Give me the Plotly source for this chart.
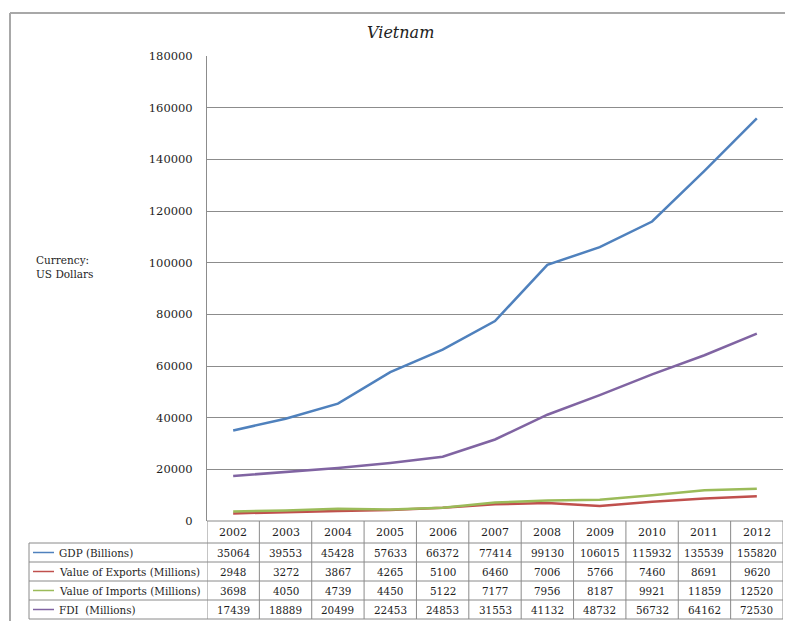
import plotly.graph_objects as go

years = [2002, 2003, 2004, 2005, 2006, 2007, 2008, 2009, 2010, 2011, 2012]
gdp = [35064, 39553, 45428, 57633, 66372, 77414, 99130, 106015, 115932, 135539, 155820]
exports = [2948, 3272, 3867, 4265, 5100, 6460, 7006, 5766, 7460, 8691, 9620]
imports = [3698, 4050, 4739, 4450, 5122, 7177, 7956, 8187, 9921, 11859, 12520]
fdi = [17439, 18889, 20499, 22453, 24853, 31553, 41132, 48732, 56732, 64162, 72530]

series_names = ["GDP (Billions)", "Value of Exports (Millions)", "Value of Imports (Millions)", "FDI  (Millions)"]
series_values = [gdp, exports, imports, fdi]
series_colors = ["#4F81BD", "#C0504D", "#9BBB59", "#8064A2"]
y_ticks = [0, 20000, 40000, 60000, 80000, 100000, 120000, 140000, 160000, 180000]

W, H = 785, 621
ML, MR, MT, MB = 207, 2, 56, 100
PW, PH = W - ML - MR, H - MT - MB


def xp(px):
    return (px - ML) / PW


def yp(py):
    return (H - MB - py) / PH


FONT = "DejaVu Serif"
GRID = "#8c8c8c"
TXT = "#1e1e1e"

fig = go.Figure()
for name, vals, col in zip(series_names, series_values, series_colors):
    fig.add_trace(go.Scatter(x=years, y=vals, mode="lines", name=name,
                             line=dict(color=col, width=2.5), showlegend=False))

shapes = []
annotations = []

# outer frame (left and top)
shapes.append(dict(type="line", xref="paper", yref="paper", x0=xp(10), x1=xp(785),
                   y0=yp(13), y1=yp(13), line=dict(color="#a8a8a8", width=2)))
shapes.append(dict(type="line", xref="paper", yref="paper", x0=xp(10), x1=xp(10),
                   y0=yp(13), y1=yp(621), line=dict(color="#a8a8a8", width=2)))

# table geometry
row_edges = [521, 543, 562, 581, 600, 619]
tbl_left = 29
line_style = dict(color="#8a8a8a", width=1)

for i, ry in enumerate(row_edges):
    x0 = xp(ML) if i == 0 else xp(tbl_left)
    shapes.append(dict(type="line", xref="paper", yref="paper", x0=x0, x1=1,
                       y0=yp(ry), y1=yp(ry), line=line_style))
for k in range(len(years) + 1):
    xv = years[0] - 0.5 + k
    shapes.append(dict(type="line", xref="x", yref="paper", x0=xv, x1=xv,
                       y0=yp(row_edges[0]), y1=yp(row_edges[-1]), line=line_style))
shapes.append(dict(type="line", xref="paper", yref="paper", x0=xp(tbl_left), x1=xp(tbl_left),
                   y0=yp(row_edges[1]), y1=yp(row_edges[-1]), line=line_style))

for yr in years:
    annotations.append(dict(x=yr, y=yp((row_edges[0] + row_edges[1]) / 2), xref="x", yref="paper",
                            text=str(yr), showarrow=False, xanchor="center", yanchor="middle",
                            font=dict(family=FONT, size=11, color=TXT)))

for r, (name, vals, col) in enumerate(zip(series_names, series_values, series_colors)):
    cy = (row_edges[r + 1] + row_edges[r + 2]) / 2
    shapes.append(dict(type="line", xref="paper", yref="paper", x0=xp(33), x1=xp(54),
                       y0=yp(cy), y1=yp(cy), line=dict(color=col, width=1.5)))
    annotations.append(dict(x=xp(57), y=yp(cy), xref="paper", yref="paper", text=name,
                            showarrow=False, xanchor="left", yanchor="middle",
                            font=dict(family=FONT, size=10.4, color=TXT)))
    for yr, v in zip(years, vals):
        annotations.append(dict(x=yr, y=yp(cy), xref="x", yref="paper", text=str(v),
                                showarrow=False, xanchor="center", yanchor="middle",
                                font=dict(family=FONT, size=10.4, color=TXT)))

annotations.append(dict(x=xp(400), y=yp(33), xref="paper", yref="paper", text="<i>Vietnam</i>",
                        showarrow=False, xanchor="center", yanchor="middle",
                        font=dict(family=FONT, size=16, color="#222222")))
annotations.append(dict(x=xp(34), y=yp(267), xref="paper", yref="paper",
                        text="Currency:<br>US Dollars", showarrow=False, xanchor="left",
                        yanchor="middle", align="left",
                        font=dict(family=FONT, size=10.5, color=TXT)))

fig.update_layout(
    width=W, height=H,
    margin=dict(l=ML, r=MR, t=MT, b=MB, pad=0),
    paper_bgcolor="white", plot_bgcolor="white",
    shapes=shapes, annotations=annotations,
    xaxis=dict(range=[years[0] - 0.5, years[-1] + 0.5], showticklabels=False, showgrid=False,
               zeroline=False, showline=False, ticks=""),
    yaxis=dict(range=[0, 180000], tickvals=y_ticks, ticktext=[str(t) for t in y_ticks],
               showgrid=True, gridcolor=GRID, gridwidth=1, zeroline=False,
               showline=True, linecolor=GRID, linewidth=1, ticks="",
               ticklabelstandoff=11,
               tickfont=dict(family=FONT, size=11.5, color=TXT)),
)

fig.write_html("out.html", config={"displayModeBar": False},
               post_script="document.body.style.margin='0';document.body.style.overflow='hidden';")
